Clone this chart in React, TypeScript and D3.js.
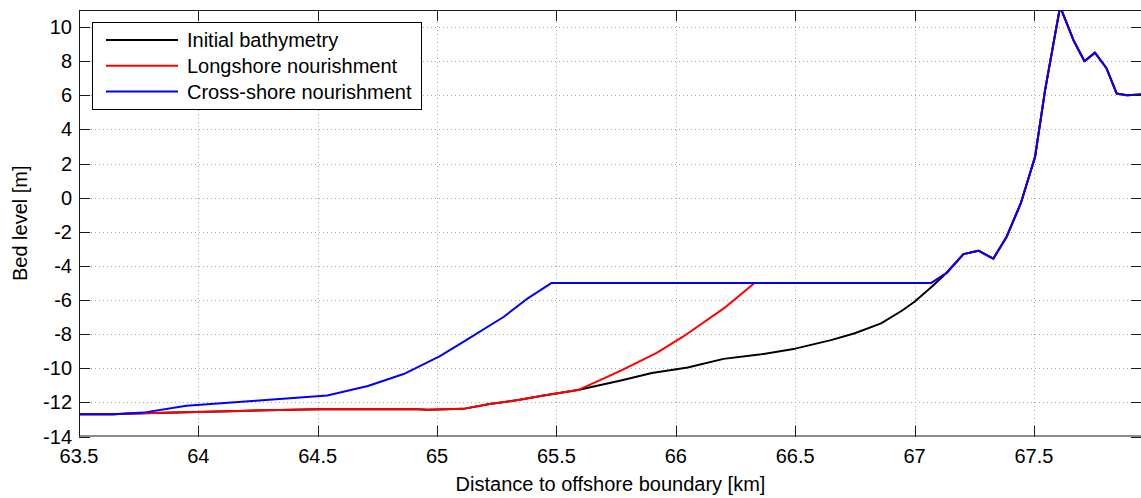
import React from "react";
import * as d3 from "d3";

// Cross-shore profile distances [km] and bed levels [m]
const initialX = [63.5, 63.64, 63.77, 64.17, 64.5, 64.92, 64.96, 65.11, 65.22, 65.34, 65.44, 65.59, 65.77, 65.9, 66.05, 66.2, 66.35, 66.5, 66.65, 66.75, 66.86, 66.95, 67.0, 67.07, 67.135, 67.205, 67.268, 67.33, 67.386, 67.445, 67.505, 67.547, 67.582, 67.61, 67.666, 67.712, 67.756, 67.805, 67.847, 67.889, 67.96];
const initialZ = [-12.7, -12.7, -12.63, -12.5, -12.4, -12.4, -12.43, -12.38, -12.1, -11.86, -11.61, -11.28, -10.72, -10.28, -9.95, -9.45, -9.2, -8.85, -8.35, -7.95, -7.37, -6.6, -6.1, -5.25, -4.4, -3.31, -3.11, -3.58, -2.29, -0.34, 2.39, 6.3, 9.03, 11.2, 9.23, 8.0, 8.5, 7.57, 6.1, 6.0, 6.05];

const longshoreX = [63.5, 63.64, 63.77, 64.17, 64.5, 64.92, 64.96, 65.11, 65.22, 65.34, 65.44, 65.59, 65.77, 65.92, 66.03, 66.21, 66.33, 67.07, 67.135, 67.205, 67.268, 67.33, 67.386, 67.445, 67.505, 67.547, 67.582, 67.61, 67.666, 67.712, 67.756, 67.805, 67.847, 67.889, 67.96];
const longshoreZ = [-12.7, -12.7, -12.63, -12.5, -12.4, -12.4, -12.43, -12.38, -12.1, -11.86, -11.61, -11.28, -10.14, -9.1, -8.15, -6.4, -5.0, -5.0, -4.4, -3.31, -3.11, -3.58, -2.29, -0.34, 2.39, 6.3, 9.03, 11.2, 9.23, 8.0, 8.5, 7.57, 6.1, 6.0, 6.05];

const crossshoreX = [63.5, 63.64, 63.77, 63.95, 64.24, 64.54, 64.71, 64.86, 65.01, 65.11, 65.28, 65.38, 65.48, 67.07, 67.135, 67.205, 67.268, 67.33, 67.386, 67.445, 67.505, 67.547, 67.582, 67.61, 67.666, 67.712, 67.756, 67.805, 67.847, 67.889, 67.96];
const crossshoreZ = [-12.7, -12.7, -12.6, -12.2, -11.9, -11.6, -11.04, -10.34, -9.3, -8.45, -6.98, -5.9, -5.0, -5.0, -4.4, -3.31, -3.11, -3.58, -2.29, -0.34, 2.39, 6.3, 9.03, 11.2, 9.23, 8.0, 8.5, 7.57, 6.1, 6.0, 6.05];

const xTicks = [63.5, 64, 64.5, 65, 65.5, 66, 66.5, 67, 67.5];
const yTicks = [-14, -12, -10, -8, -6, -4, -2, 0, 2, 4, 6, 8, 10];

const seriesNames = ["Initial bathymetry", "Longshore nourishment", "Cross-shore nourishment"];
const seriesColors = ["#000000", "#ff0000", "#0000ff"];

const W = 1141;
const H = 498;
const left = 79;
const right = 1142;
const top = 10;
const bottom = 436.5;
const FONT = "'Liberation Sans', Arial, Helvetica, sans-serif";

export default function App() {
  const x = d3.scaleLinear().domain([63.5, 67.953]).range([left, right]);
  const y = d3.scaleLinear().domain([-14, 11]).range([bottom, top]);
  const line = d3
    .line<[number, number]>()
    .x((d) => x(d[0]))
    .y((d) => y(d[1]));

  const series = [
    initialX.map((v, i) => [v, initialZ[i]] as [number, number]),
    longshoreX.map((v, i) => [v, longshoreZ[i]] as [number, number]),
    crossshoreX.map((v, i) => [v, crossshoreZ[i]] as [number, number]),
  ];

  const tickLen = 11;
  const axisColor = "#1a1a1a";
  const gridColor = "#a8a8a8";

  return (
    <svg
      width={W}
      height={H}
      style={{ position: "absolute", left: 0, top: 0, background: "#fff" }}
      fontFamily={FONT}
    >
      <defs>
        <clipPath id="plotArea">
          <rect x={left} y={top} width={right - left} height={bottom - top} />
        </clipPath>
      </defs>
      <rect x={0} y={0} width={W} height={H} fill="#fff" />

      {/* grid */}
      <g stroke={gridColor} strokeWidth={1} strokeDasharray="1,3">
        {xTicks.slice(1).map((t) => (
          <line key={"gx" + t} x1={Math.round(x(t)) + 0.5} x2={Math.round(x(t)) + 0.5} y1={top} y2={bottom} />
        ))}
        {yTicks.slice(1).map((t) => (
          <line key={"gy" + t} x1={left} x2={right} y1={Math.round(y(t)) + 0.5} y2={Math.round(y(t)) + 0.5} />
        ))}
      </g>

      {/* profiles */}
      <g clipPath="url(#plotArea)" fill="none" strokeWidth={2} strokeLinejoin="round">
        {series.map((s, i) => (
          <path key={seriesNames[i]} d={line(s) || ""} stroke={seriesColors[i]} />
        ))}
      </g>

      {/* axes box and ticks */}
      <g stroke={axisColor} strokeWidth={1}>
        <rect x={left + 0.5} y={top + 0.5} width={right - left - 1} height={bottom - top - 1} fill="none" />
        {xTicks.map((t) => {
          const px = Math.round(x(t)) + 0.5;
          return (
            <g key={"tx" + t}>
              <line x1={px} x2={px} y1={bottom} y2={bottom - tickLen} />
              <line x1={px} x2={px} y1={top} y2={top + tickLen} />
            </g>
          );
        })}
        {yTicks.map((t) => {
          const py = Math.round(y(t)) + 0.5;
          return (
            <g key={"ty" + t}>
              <line x1={left} x2={left + tickLen} y1={py} y2={py} />
              <line x1={right} x2={right - tickLen} y1={py} y2={py} />
            </g>
          );
        })}
      </g>

      {/* tick labels */}
      <g fontSize={20} fill="#000">
        {xTicks.map((t) => (
          <text key={"lx" + t} x={x(t)} y={463} textAnchor="middle">
            {String(t)}
          </text>
        ))}
        {yTicks.map((t) => (
          <text key={"ly" + t} x={72} y={y(t) + 7} textAnchor="end">
            {String(t)}
          </text>
        ))}
      </g>

      {/* axis titles */}
      <text x={(left + right) / 2} y={491} textAnchor="middle" fontSize={20} fill="#000">
        Distance to offshore boundary [km]
      </text>
      <text
        transform={`translate(27, ${(top + bottom) / 2}) rotate(-90)`}
        textAnchor="middle"
        fontSize={20}
        fill="#000"
      >
        Bed level [m]
      </text>

      {/* legend */}
      <g>
        <rect x={92.5} y={22.5} width={329} height={87} fill="#fff" stroke="#000" strokeWidth={1} />
        {seriesNames.map((name, i) => {
          const ly = 40 + i * 25.8;
          return (
            <g key={"lg" + name}>
              <line x1={106} x2={178} y1={ly} y2={ly} stroke={seriesColors[i]} strokeWidth={2} />
              <text x={187} y={ly + 7} fontSize={20} fill="#000">
                {name}
              </text>
            </g>
          );
        })}
      </g>
    </svg>
  );
}
